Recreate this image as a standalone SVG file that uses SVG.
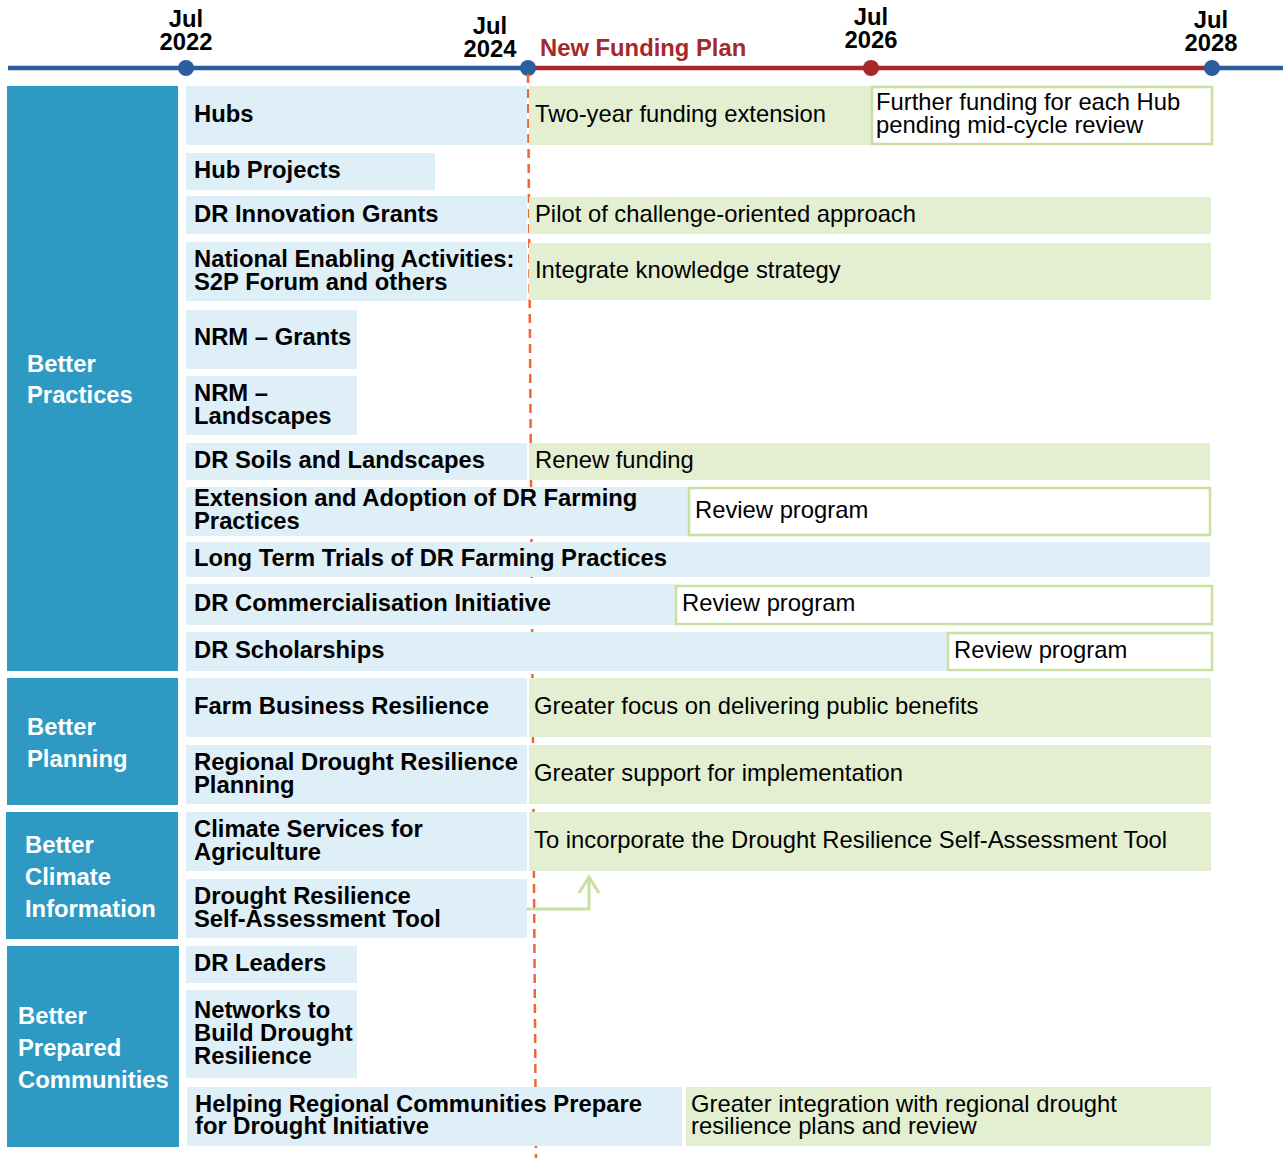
<svg xmlns="http://www.w3.org/2000/svg" width="1283" height="1158" viewBox="0 0 1283 1158">
<style>
text{font-family:"Liberation Sans",Arial,sans-serif;font-size:23.8px;fill:#000}
.b{font-weight:bold}
.yr{font-weight:bold;text-anchor:middle}
.cat rect{fill:#2E9AC4}
.cat text{fill:#fff;font-weight:bold}
.item rect{fill:#DFEFF7}
.item text{font-weight:bold}
.plan rect{fill:#E4EFD2}
.rev rect{fill:#fff;stroke:#C8E0A0;stroke-width:2.5}
</style>
<g id="timeline">
<line x1="8" y1="68" x2="528" y2="68" stroke="#2A5E9E" stroke-width="4.5"/>
<line x1="528" y1="68" x2="1212" y2="68" stroke="#A6282B" stroke-width="4.5"/>
<line x1="1212" y1="68" x2="1283" y2="68" stroke="#2A5E9E" stroke-width="4.5"/>
<circle cx="186" cy="68" r="8" fill="#2A5E9E"/>
<circle cx="528" cy="68" r="8" fill="#2A5E9E"/>
<circle cx="871" cy="68" r="8" fill="#A6282B"/>
<circle cx="1212" cy="68" r="8" fill="#2A5E9E"/>
<text class="yr" x="186" y="27">Jul</text><text class="yr" x="186" y="49.5">2022</text>
<text class="yr" x="490" y="34">Jul</text><text class="yr" x="490" y="56.5">2024</text>
<text class="yr" x="871" y="25">Jul</text><text class="yr" x="871" y="47.5">2026</text>
<text class="yr" x="1211" y="28">Jul</text><text class="yr" x="1211" y="50.5">2028</text>
<text class="b" x="540" y="56" style="fill:#A6282B">New Funding Plan</text>
</g>
<g id="connectors">
<line x1="528" y1="74" x2="536" y2="1158" stroke="#F26430" stroke-width="2.5" stroke-dasharray="9,6"/>
</g>
<g id="cat-practices" class="cat"><rect x="7" y="86" width="171" height="585"/><text x="27" y="371.5">Better</text><text x="27" y="402.5">Practices</text></g>
<g id="cat-planning" class="cat"><rect x="7" y="678" width="171" height="127"/><text x="27" y="734.5">Better</text><text x="27" y="766.5">Planning</text></g>
<g id="cat-climate" class="cat"><rect x="6" y="812" width="172" height="127"/><text x="25" y="852.5">Better</text><text x="25" y="884.5">Climate</text><text x="25" y="916.5">Information</text></g>
<g id="cat-communities" class="cat"><rect x="7" y="946" width="172" height="201"/><text x="18" y="1023.5">Better</text><text x="18" y="1055.5">Prepared</text><text x="18" y="1087.5">Communities</text></g>
<g id="hubs" class="item"><rect x="186" y="86" width="341" height="59"/><text x="194" y="121.5">Hubs</text></g>
<g id="hub-projects" class="item"><rect x="186" y="153" width="249" height="37"/><text x="194" y="177.5">Hub Projects</text></g>
<g id="dr-innovation" class="item"><rect x="186" y="196" width="341" height="38"/><text x="194" y="221.5">DR Innovation Grants</text></g>
<g id="national" class="item"><rect x="186" y="242" width="341" height="59"/><text x="194" y="266.5">National Enabling Activities:</text><text x="194" y="289.5">S2P Forum and others</text></g>
<g id="nrm-grants" class="item"><rect x="186" y="310" width="171" height="59"/><text x="194" y="344.5">NRM – Grants</text></g>
<g id="nrm-landscapes" class="item"><rect x="186" y="376" width="171" height="59"/><text x="194" y="400.5">NRM –</text><text x="194" y="423.5">Landscapes</text></g>
<g id="dr-soils" class="item"><rect x="186" y="443" width="341" height="37"/><text x="194" y="467.5">DR Soils and Landscapes</text></g>
<g id="extension" class="item"><rect x="186" y="487" width="502" height="49"/><text x="194" y="505.5">Extension and Adoption of DR Farming</text><text x="194" y="528.5">Practices</text></g>
<g id="long-term" class="item"><rect x="186" y="542" width="1024" height="35"/><text x="194" y="565.5">Long Term Trials of DR Farming Practices</text></g>
<g id="commercialisation" class="item"><rect x="186" y="584" width="489" height="41"/><text x="194" y="610.5">DR Commercialisation Initiative</text></g>
<g id="scholarships" class="item"><rect x="186" y="632" width="762" height="39"/><text x="194" y="657.5">DR Scholarships</text></g>
<g id="farm-business" class="item"><rect x="186" y="678" width="341" height="59"/><text x="194" y="713.5">Farm Business Resilience</text></g>
<g id="regional-planning" class="item"><rect x="186" y="745" width="341" height="59"/><text x="194" y="769.5">Regional Drought Resilience</text><text x="194" y="792.5">Planning</text></g>
<g id="climate-services" class="item"><rect x="186" y="812" width="341" height="59"/><text x="194" y="836.5">Climate Services for</text><text x="194" y="859.5">Agriculture</text></g>
<g id="self-assessment" class="item"><rect x="186" y="879" width="341" height="59"/><text x="194" y="903.5">Drought Resilience</text><text x="194" y="926.5">Self-Assessment Tool</text></g>
<g id="dr-leaders" class="item"><rect x="186" y="946" width="171" height="37"/><text x="194" y="970.5">DR Leaders</text></g>
<g id="networks" class="item"><rect x="186" y="990" width="171" height="88"/><text x="194" y="1017.5">Networks to</text><text x="194" y="1040.5">Build Drought</text><text x="194" y="1063.5">Resilience</text></g>
<g id="helping" class="item"><rect x="187" y="1087" width="495" height="59"/><text x="195" y="1111.5">Helping Regional Communities Prepare</text><text x="195" y="1133.5">for Drought Initiative</text></g>
<g id="p-hubs" class="plan"><rect x="529" y="86" width="343" height="59"/><text x="535" y="121.5">Two-year funding extension</text></g>
<g id="p-hubs-further" class="rev"><rect x="872" y="87" width="340" height="57"/><text x="876" y="109.5">Further funding for each Hub</text><text x="876" y="132.5">pending mid-cycle review</text></g>
<g id="p-innovation" class="plan"><rect x="529" y="197" width="682" height="37"/><text x="535" y="221.5">Pilot of challenge-oriented approach</text></g>
<g id="p-national" class="plan"><rect x="529" y="243" width="682" height="57"/><text x="535" y="277.5">Integrate knowledge strategy</text></g>
<g id="p-soils" class="plan"><rect x="529" y="443" width="681" height="37"/><text x="535" y="467.5">Renew funding</text></g>
<g id="p-extension" class="rev"><rect x="689" y="488" width="521" height="47"/><text x="695" y="517.5">Review program</text></g>
<g id="p-commercialisation" class="rev"><rect x="676" y="586" width="536" height="38"/><text x="682" y="610.5">Review program</text></g>
<g id="p-scholarships" class="rev"><rect x="948" y="633" width="264" height="37"/><text x="954" y="657.5">Review program</text></g>
<g id="p-farm" class="plan"><rect x="529" y="678" width="682" height="59"/><text x="534" y="713.5">Greater focus on delivering public benefits</text></g>
<g id="p-regional" class="plan"><rect x="529" y="745" width="682" height="59"/><text x="534" y="780.5">Greater support for implementation</text></g>
<g id="p-climate" class="plan"><rect x="529" y="812" width="682" height="59"/><text x="534" y="847.5">To incorporate the Drought Resilience Self-Assessment Tool</text></g>
<g id="p-helping" class="plan"><rect x="686" y="1087" width="525" height="59"/><text x="691" y="1111.5">Greater integration with regional drought</text><text x="691" y="1133.5">resilience plans and review</text></g>
<g id="arrow">
<polyline points="527,909 589,909 589,877" fill="none" stroke="#C8E0A0" stroke-width="3"/>
<polyline points="579,893 589,877 599,893" fill="none" stroke="#C8E0A0" stroke-width="3"/>
</g>
</svg>
